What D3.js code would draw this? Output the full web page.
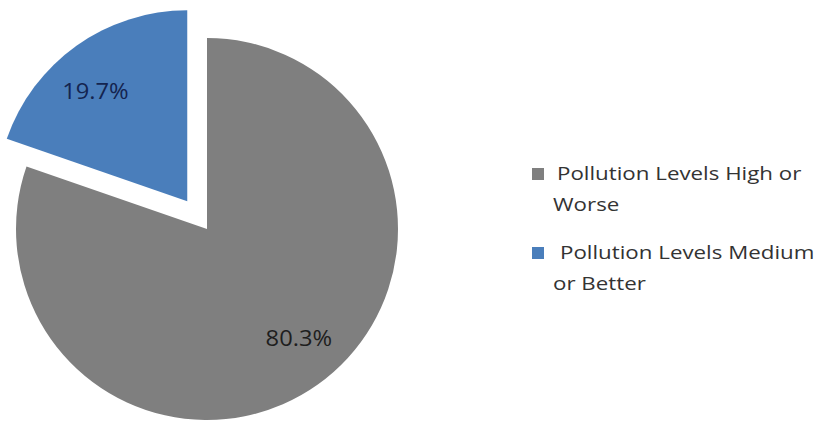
<!DOCTYPE html>
<html>
<head>
<meta charset="utf-8">
<script src="https://cdn.jsdelivr.net/npm/d3@7"></script>
<style>
  html, body { margin: 0; padding: 0; background: #fff; }
  #vis1 { width: 826px; height: 423px; }
</style>
</head>
<body>
<div id="vis1"></div>
<script>
/*
Data
*/

const categories = ["Pollution Levels High or Worse", "Pollution Levels Medium or Better"];
const values = [80.3, 19.7];
const legendLines = [["Pollution Levels High or", "Worse"], ["Pollution Levels Medium", "or Better"]];

/*
Size constants
*/

const WIDTH = 826;
const HEIGHT = 423;
const cx = 207, cy = 229;
const radius = 191;
const labelRadius = 143;
const labelTurn = -4.5 * Math.PI / 180; // labels sit a little anticlockwise of the slice middle
const explode = 34; // pull-out of the small slice

const colors = d3.scaleOrdinal().domain(categories).range(["#7f7f7f", "#4a7ebb"]);
const labelColors = d3.scaleOrdinal().domain(categories).range(["#1e1e1e", "#14244f"]);

const svg = d3.select("#vis1")
                .append("svg")
                .attr("width", WIDTH)
                .attr("height", HEIGHT);

const pie = d3.pie().sort(null).value(d => d.value);
const arc = d3.arc().innerRadius(0).outerRadius(radius);

const slices = pie(categories.map((c, i) => ({name: c, value: values[i]})));

// offset of each slice from the pie centre
function offset(d) {
    if (d.index !== 1) return [0, 0];
    const mid = (d.startAngle + d.endAngle) / 2;
    return [Math.sin(mid) * explode, -Math.cos(mid) * explode];
}

function labelPos(d) {
    const a = (d.startAngle + d.endAngle) / 2 + labelTurn;
    return [Math.sin(a) * labelRadius, -Math.cos(a) * labelRadius];
}

const pieGroup = svg.append("g")
                .attr("transform", `translate(${cx}, ${cy})`);

const sliceNodes = pieGroup.selectAll("g.slice")
                .data(slices)
                .enter()
                .append("g")
                .attr("class", "slice")
                .attr("transform", d => `translate(${offset(d)[0]}, ${offset(d)[1]})`);

sliceNodes.append("path")
            .attr("d", arc)
            .attr("fill", d => colors(d.data.name));

sliceNodes.append("text")
            .attr("transform", d => {
                const [x, y] = labelPos(d);
                return `translate(${x}, ${y}) scale(1.13, 1)`;
            })
            .attr("text-anchor", "middle")
            .attr("dy", "0.35em")
            .style("font-family", "'Open Sans', sans-serif")
            .style("font-size", "21px")
            .style("fill", d => labelColors(d.data.name))
            .text(d => d.data.value.toFixed(1) + "%");

/*
Legend
*/

const legendY = d3.scalePoint().domain(categories).range([168, 247]);

const legend = svg.append("g").attr("id", "legend");

const items = legend.selectAll("g.item")
            .data(categories)
            .enter()
            .append("g")
            .attr("class", "item")
            .attr("transform", d => `translate(532, ${legendY(d)})`);

items.append("rect")
        .attr("width", 12)
        .attr("height", 12)
        .attr("fill", d => colors(d));

items.each(function(d, i) {
    const g = d3.select(this);
    legendLines[i].forEach((line, j) => {
        g.append("text")
            .attr("transform", `translate(${j === 0 ? 25 + i * 3 : 21}, ${12 + j * 31}) scale(1.24, 1)`)
            .style("font-family", "'Open Sans', sans-serif")
            .style("font-size", "18px")
            .style("fill", "#333")
            .text(line);
    });
});
</script>
</body>
</html>
